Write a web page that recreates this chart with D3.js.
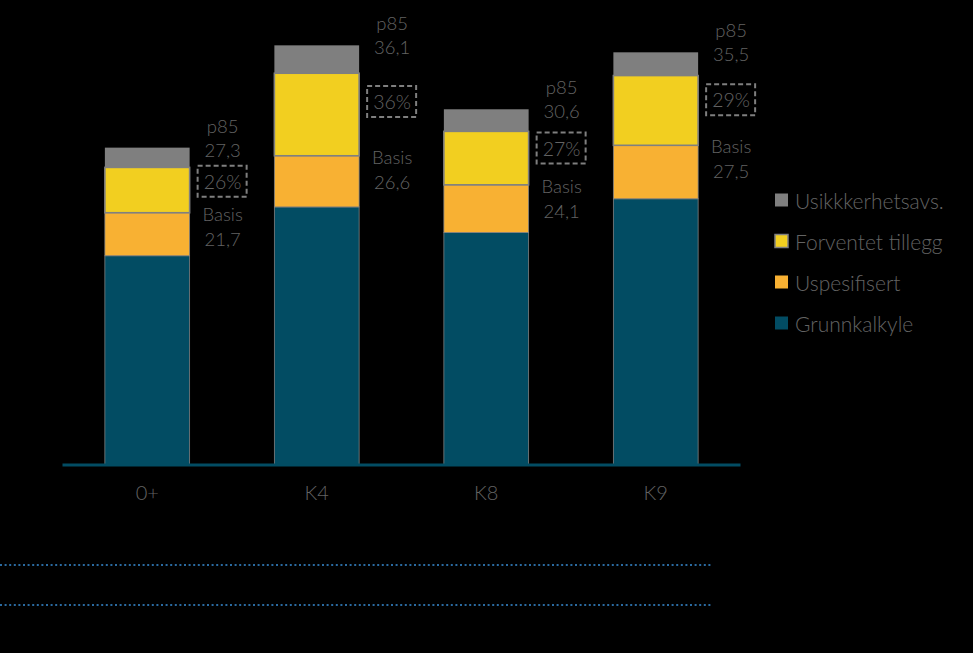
<!DOCTYPE html>
<html><head><meta charset="utf-8">
<script src="https://cdn.jsdelivr.net/npm/d3@7"></script>
<style>html,body{margin:0;padding:0;background:#000;}svg{display:block;}</style>
</head><body>
<svg id="chart" width="973" height="653"></svg>
<script>
const categories = ["0+", "K4", "K8", "K9"];
const grunnkalkyle = [18.0, 22.2, 20.0, 22.9];
const uspesifisert = [3.7, 4.4, 4.1, 4.6];
const forventet = [3.9, 7.1, 4.6, 6.0];
const usikkerhet = [1.7, 2.4, 1.9, 2.0];
const p85 = [27.3, 36.1, 30.6, 35.5];
const basis = [21.7, 26.6, 24.1, 27.5];
const pctLabels = ["26%", "36%", "27%", "29%"];
const seriesNames = ["Grunnkalkyle", "Uspesifisert", "Forventet tillegg", "Usikkkerhetsavs."];
const seriesColors = ["#024c63", "#f8b133", "#f2cf20", "#7f7f7f"];

const svg = d3.select("#chart");
const font = "Lato, 'Open Sans', sans-serif";
const textColor = "#636363";

const x = d3.scaleBand().domain(categories).range([62.5, 740.5]).paddingInner(0.5).paddingOuter(0.25);
const y = d3.scaleLinear().domain([0, 40]).range([465, 0]);

const keys = ["g", "u", "f", "s"];
const rows = categories.map((c, i) => ({cat: c, g: grunnkalkyle[i], u: uspesifisert[i], f: forventet[i], s: usikkerhet[i]}));
const stacked = d3.stack().keys(keys)(rows);

stacked.forEach((layer, li) => {
  svg.append("g").selectAll("rect").data(layer).join("rect")
    .attr("x", d => x(d.data.cat))
    .attr("width", x.bandwidth())
    .attr("y", d => y(d[1]))
    .attr("height", d => y(d[0]) - y(d[1]))
    .attr("fill", seriesColors[li])
    .attr("stroke", li === 3 ? "none" : "#808080")
    .attr("stroke-width", li === 2 ? 1.6 : 0.8);
});

// axis baseline
svg.append("line").attr("x1", 62.5).attr("x2", 740.5).attr("y1", y(0)).attr("y2", y(0))
  .attr("stroke", "#024c63").attr("stroke-width", 3);

// category labels
const xAxis = d3.axisBottom(x).tickSize(0).tickPadding(0);
const gx = svg.append("g").attr("transform", `translate(0,${y(0) + 27})`).call(xAxis);
gx.select(".domain").remove();
gx.selectAll("text").attr("fill", textColor).attr("font-family", font).attr("font-size", 20)
  .attr("font-weight", 300).attr("dy", null).attr("dominant-baseline", "central");

// annotations
categories.forEach((c, i) => {
  const cx = x(c) + x.bandwidth() + 33;
  const topY = y(p85[i]);
  const basY = y(basis[i]);
  const t = (txt, yy, fs) => svg.append("text").attr("x", cx).attr("y", yy).attr("text-anchor", "middle")
    .attr("dominant-baseline", "central").attr("fill", textColor).attr("font-family", font)
    .attr("font-weight", 300).attr("font-size", fs || 18.5).text(txt);
  t("p85", topY - 22);
  t(p85[i].toFixed(1).replace(".", ","), topY + 2);
  t("Basis", basY + 1);
  t(basis[i].toFixed(1).replace(".", ","), basY + 26);
  const mid = (topY + basY) / 2 + 1;
  svg.append("rect").attr("x", cx - 25).attr("y", mid - 15.5).attr("width", 49).attr("height", 31)
    .attr("fill", "none").attr("stroke", "#7f7f7f").attr("stroke-width", 2).attr("stroke-dasharray", "5,3");
  t(pctLabels[i], mid, 19.5);
});

// legend
const legendOrder = [3, 2, 1, 0];
legendOrder.forEach((si, k) => {
  const ly = 200 + k * 41;
  svg.append("rect").attr("x", 775).attr("y", ly - 6.5).attr("width", 13).attr("height", 13)
    .attr("fill", seriesColors[si]).attr("stroke", si === 2 ? "#808080" : "none").attr("stroke-width", 1.5);
  svg.append("text").attr("x", 795).attr("y", ly).attr("dominant-baseline", "central")
    .attr("fill", textColor).attr("font-family", font).attr("font-weight", 300)
    .attr("font-size", 21).text(seriesNames[si]);
});

// dotted lines
[565, 605].forEach(yy => {
  svg.append("line").attr("x1", 0).attr("x2", 712).attr("y1", yy).attr("y2", yy)
    .attr("stroke", "#2a6aa0").attr("stroke-width", 2).attr("stroke-dasharray", "2,2.6");
});
</script>
</body></html>
